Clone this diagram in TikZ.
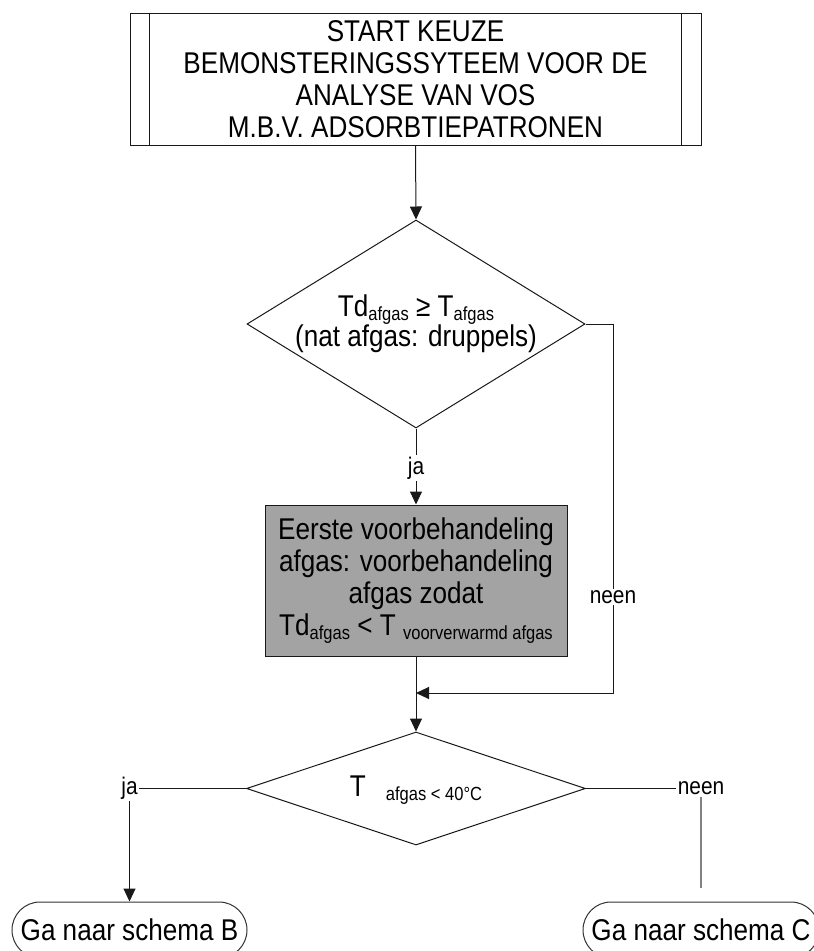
\documentclass[tikz,border=0pt]{standalone}
\usepackage{fontspec}
\setmainfont{Liberation Sans}[FakeStretch=0.87]
\usetikzlibrary{shapes.geometric,shapes.misc,arrows.meta}
\definecolor{boxgray}{RGB}{163,163,163}
\definecolor{linegray}{RGB}{130,130,130}
\newcommand\subtx[1]{\raisebox{-4pt}{\fontsize{19}{19}\selectfont #1}}
\begin{document}
\begin{tikzpicture}[x=1pt,y=-1pt,
  big/.style={font=\fontsize{30}{32}\selectfont, align=center},
  lbl/.style={font=\fontsize{24}{24}\selectfont, inner sep=1.5pt},
  ln/.style={line width=1pt, draw=black!90},
  arr/.style={ln, -{Triangle[length=13pt,width=12pt]}},
  dia/.style={diamond, draw, line width=1pt, draw=black!90, inner sep=0pt},
  stepbox/.style={rectangle, draw, line width=1pt, draw=black!90, inner sep=0pt},
  term/.style={rounded rectangle, draw, line width=1pt, draw=black!80, inner sep=0pt,
               minimum height=56pt, big}]
\useasboundingbox (0,0) rectangle (814,951);
\clip (0,0) rectangle (814,951);

% start box
\node[stepbox, big, minimum width=571pt, minimum height=132pt] (start) at (415.5,79)
  {START KEUZE\\BEMONSTERINGSSYTEEM VOOR DE\\ANALYSE VAN VOS\\M.B.V. ADSORBTIEPATRONEN};
\draw[ln] ([xshift=20pt]start.north west) -- ([xshift=20pt]start.south west);
\draw[ln] ([xshift=-20pt]start.north east) -- ([xshift=-20pt]start.south east);

% first decision
\node[dia, minimum width=338pt, minimum height=208pt] (d1) at (416,324) {};
\node[font=\fontsize{30}{30}\selectfont, align=center] (d1t) at (416,324)
  {Td\subtx{afgas} ≥ T\subtx{afgas}\\(nat afgas: druppels)};

% pretreatment box
\node[stepbox, fill=boxgray, big, minimum width=302pt, minimum height=151pt] (box2) at (416,580.5)
  {Eerste voorbehandeling\\afgas: voorbehandeling\\afgas zodat\\Td\subtx{afgas} < T \subtx{voorverwarmd afgas}};

% second decision
\node[dia, minimum width=339pt, minimum height=113pt] (d2) at (416,788.5) {};
\node[inner sep=0pt, font=\fontsize{30}{30}\selectfont] (d2t) at (416,790)
  {T\hspace{20pt}\subtx{afgas < 40°C}};

% terminals
\node[term, minimum width=235pt] (tB) at (129.5,930) {Ga naar schema B};
\node[term, minimum width=236pt] (tC) at (701,930) {Ga naar schema C};

% helper coordinates
\coordinate (r1) at (613,324);
\coordinate (r2) at (613,693);
\coordinate (m) at (416,693);
\coordinate (cEnd) at (701,888);

% connectors
\draw[arr] (start.south) -- (d1.north);
\draw[arr] (d1.south) -- node[lbl, fill=white, pos=0.52] (ja1) {ja} (box2.north);
\draw[arr] (d1.east) -- (r1) -- node[lbl, fill=white, pos=0.74] (neen1) {neen} (r2) -- (m);
\draw[arr] (box2.south) -- (d2.north);

\node[lbl] (ja2) at (129.5,788.5) {ja};
\node[lbl] (neen2) at (701,788.5) {neen};
\draw[ln] (d2.west) -- (ja2.east);
\draw[arr] (ja2.south) -- (tB.north);
\draw[ln] (d2.east) -- (neen2.west);
\draw[line width=1.3pt, draw=linegray] (neen2.south) -- (cEnd);
\end{tikzpicture}
\end{document}
